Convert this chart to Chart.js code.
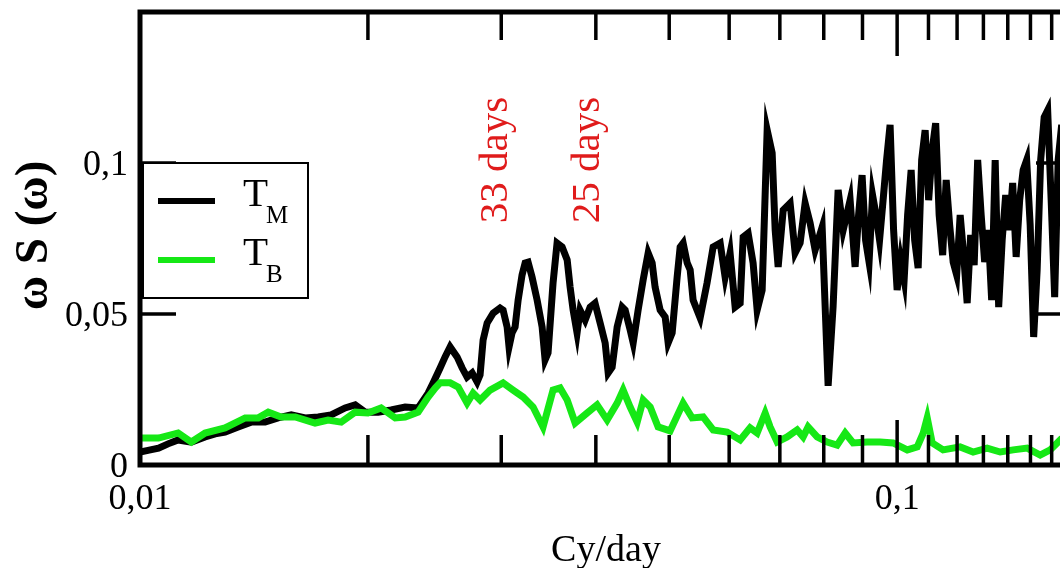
<!DOCTYPE html>
<html>
<head>
<meta charset="utf-8">
<title>Spectrum T_M / T_B</title>
<script src="https://cdn.jsdelivr.net/npm/chart.js@4.4.1/dist/chart.umd.min.js"></script>
<style>
  html, body { margin: 0; padding: 0; background: #fff; overflow: hidden; }
  canvas { display: block; }
</style>
</head>
<body>
<canvas id="spec" width="1080" height="568"></canvas>
<script>
// frequency (cy/day) and omega*S(omega) for the two records
var fM = [0.0100, 0.01032, 0.01058, 0.01089, 0.01123, 0.01169, 0.01219, 0.01257, 0.01295, 0.01348,
  0.01402, 0.01463, 0.01522, 0.01584, 0.01653, 0.01719, 0.01788, 0.01866, 0.01924, 0.01983,
  0.02063, 0.02146, 0.0224, 0.0233, 0.02402, 0.02439, 0.02491, 0.02529, 0.02568, 0.02623,
  0.02664, 0.02704, 0.02746, 0.02788, 0.02813, 0.02839, 0.02874, 0.02927, 0.02989, 0.03017,
  0.03054, 0.03072, 0.0310, 0.03129, 0.03158, 0.03196, 0.03226, 0.03255, 0.03295, 0.03346,
  0.03397, 0.03428, 0.03459, 0.03512, 0.03555, 0.0361, 0.03666, 0.03699, 0.03733, 0.03778,
  0.03813, 0.03872, 0.03931, 0.0399, 0.04053, 0.04115, 0.04153, 0.04203, 0.04268, 0.04333,
  0.04373, 0.0444, 0.04481, 0.04549, 0.04619, 0.0469, 0.04747, 0.0479, 0.04864, 0.04939,
  0.04984, 0.05045, 0.05122, 0.05169, 0.05216, 0.05281, 0.05329, 0.05377, 0.05493, 0.0561,
  0.05715, 0.05838, 0.05927, 0.06017, 0.0611, 0.06204, 0.06261, 0.06356, 0.06453, 0.06533,
  0.06633, 0.06735, 0.06838, 0.06901, 0.06964, 0.07071, 0.07222, 0.07333, 0.07445, 0.07559,
  0.07675, 0.07793, 0.07961, 0.08107, 0.0823, 0.08357, 0.08486, 0.08668,
  0.08800, 0.08894, 0.08989, 0.09085, 0.09182, 0.09280, 0.09380, 0.09480, 0.09582, 0.09684,
  0.09788, 0.09893, 0.1000, 0.10107, 0.10215, 0.10324, 0.10435, 0.10547, 0.10660, 0.10774,
  0.10889, 0.11006, 0.11124, 0.11243, 0.11363, 0.11485, 0.11608, 0.11732, 0.11858, 0.11985,
  0.12113, 0.12243, 0.12374, 0.12506, 0.12640, 0.12775, 0.12912, 0.13050, 0.13190, 0.13331,
  0.13474, 0.13618, 0.13764, 0.13911, 0.14060, 0.14210, 0.14362, 0.14516, 0.14671, 0.14828,
  0.14987, 0.15147, 0.15309, 0.15473, 0.15639, 0.15806, 0.15975, 0.16146, 0.16319, 0.16494,
  0.16670, 0.16848, 0.1702];
var sM = [0.0043, 0.0050, 0.0056, 0.0070, 0.0083, 0.0076, 0.0093, 0.0103, 0.0109, 0.0126,
  0.0142, 0.0142, 0.0156, 0.0166, 0.0156, 0.0159, 0.0166, 0.0189, 0.0199, 0.0175,
  0.0175, 0.0182, 0.0192, 0.0189, 0.0238, 0.0272, 0.0321, 0.0358, 0.0391, 0.0358,
  0.0321, 0.0291, 0.0305, 0.0275, 0.0298, 0.0414, 0.0470, 0.0503, 0.0520, 0.0513,
  0.0457, 0.0391, 0.0437, 0.0457, 0.0546, 0.0629, 0.0669, 0.0672, 0.0622, 0.0546,
  0.0457, 0.0348, 0.0371, 0.0603, 0.0735, 0.0722, 0.0679, 0.0589, 0.0513, 0.0437,
  0.0513, 0.0480, 0.0523, 0.0536, 0.0470, 0.0404, 0.0305, 0.0324, 0.0457, 0.0523,
  0.0513, 0.0447, 0.0404, 0.0513, 0.0613, 0.0702, 0.0669, 0.0589, 0.0513, 0.0490,
  0.0404, 0.0437, 0.0622, 0.0722, 0.0735, 0.0669, 0.0646, 0.0546, 0.0487, 0.0603,
  0.0722, 0.0735, 0.0622, 0.0702, 0.0523, 0.0536, 0.0755, 0.0768, 0.0669, 0.0513,
  0.0579, 0.1109, 0.1033, 0.0778, 0.0656, 0.0844, 0.0867, 0.0702, 0.0735, 0.0867,
  0.0801, 0.0712, 0.0788, 0.0262, 0.0523, 0.0911, 0.0778, 0.0877,
  0.0656, 0.0828, 0.0960, 0.0745, 0.0672, 0.0894, 0.0828, 0.0745, 0.0877, 0.1010,
  0.1126, 0.0778, 0.0579, 0.0679, 0.0613, 0.0828, 0.0977, 0.0745, 0.0652, 0.1010,
  0.1109, 0.0877, 0.1043, 0.1132, 0.0828, 0.0695, 0.0944, 0.0795, 0.0672, 0.0629,
  0.0828, 0.0695, 0.0536, 0.0762, 0.0662, 0.1010, 0.0828, 0.0672, 0.0778, 0.0546,
  0.1010, 0.0523, 0.0745, 0.0894, 0.0778, 0.0934, 0.0689, 0.0877, 0.0977, 0.1010,
  0.0795, 0.0424, 0.0646, 0.1010, 0.1152, 0.1175, 0.0877, 0.0556, 0.1010, 0.1126,
  0.0877, 0.0679, 0.0778];

var fB = [0.0100, 0.01058, 0.01123, 0.01169, 0.01219, 0.01295, 0.01377, 0.01433, 0.01477, 0.01536,
  0.01603, 0.01703, 0.01772, 0.01844, 0.01924, 0.0200, 0.02082, 0.02173, 0.0224, 0.0233,
  0.02402, 0.02454, 0.02491, 0.02568, 0.02632, 0.02704, 0.02754, 0.02813, 0.0290, 0.03017,
  0.0311, 0.03206, 0.03305, 0.03407, 0.03512, 0.03588, 0.03666, 0.03756, 0.03895, 0.04015,
  0.0414, 0.04268, 0.04346, 0.0444, 0.04536, 0.04619, 0.04719, 0.04834, 0.05014, 0.05216,
  0.05361, 0.05543, 0.05715, 0.05962, 0.06204, 0.06394, 0.06533, 0.06694, 0.06796, 0.06943,
  0.07157, 0.07378, 0.07514, 0.07628, 0.07841, 0.08083, 0.08332, 0.08538, 0.08747, 0.09128,
  0.09496, 0.09879, 0.10313, 0.1063, 0.10827, 0.10958, 0.11126, 0.1150, 0.12112, 0.1260,
  0.13149, 0.13681, 0.14233, 0.14851, 0.15449, 0.15928, 0.16421, 0.1702];
var sB = [0.0089, 0.0089, 0.0106, 0.0076, 0.0106, 0.0123, 0.0156, 0.0156, 0.0175, 0.0159,
  0.0159, 0.0139, 0.0149, 0.0142, 0.0175, 0.0172, 0.0189, 0.0156, 0.0159, 0.0175,
  0.0225, 0.0255, 0.0272, 0.0272, 0.0258, 0.0205, 0.0238, 0.0215, 0.0248, 0.0272,
  0.0248, 0.0225, 0.0192, 0.0126, 0.0248, 0.0255, 0.0215, 0.0139, 0.0172, 0.0199,
  0.0149, 0.0205, 0.0248, 0.0192, 0.0142, 0.0215, 0.0192, 0.0126, 0.0113, 0.0205,
  0.0156, 0.0159, 0.0116, 0.0109, 0.0083, 0.0123, 0.0106, 0.0172, 0.0126, 0.0076,
  0.0093, 0.0116, 0.0093, 0.0126, 0.0093, 0.0076, 0.0066, 0.0106, 0.0073, 0.0076,
  0.0076, 0.0073, 0.0050, 0.0060, 0.0106, 0.0156, 0.0073, 0.0050, 0.0060, 0.0043,
  0.0056, 0.0043, 0.0050, 0.0056, 0.0033, 0.0050, 0.0083, 0.0066];

// axis ticks and labels
var xMajorTicks = [0.01, 0.1];
var xMinorTicks = [0.02, 0.03, 0.04, 0.05, 0.06, 0.07, 0.08, 0.09,
  0.11, 0.12, 0.13, 0.14, 0.15, 0.16];
var xTickLabels = ['0,01', '0,1'];
var yTicks = [0, 0.05, 0.1];
var yTickLabels = ['0', '0,05', '0,1'];

// marked periods (days)
var periods = [33, 25];
var periodLabels = ['33 days', '25 days'];

var serif = '"Liberation Serif", "Times New Roman", serif';
var greenCol = '#16e816';

function pairs(f, s) {
  return f.map(function (v, i) { return { x: v, y: s[i] }; });
}

var decor = {
  id: 'decor',
  afterDatasetsDraw: function (chart) {
    var ctx = chart.ctx, a = chart.chartArea;
    var xs = chart.scales.x, ys = chart.scales.y;
    ctx.save();
    ctx.strokeStyle = '#000';
    ctx.lineCap = 'butt';

    function seg(x1, y1, x2, y2) {
      ctx.beginPath(); ctx.moveTo(x1, y1); ctx.lineTo(x2, y2); ctx.stroke();
    }

    // inward ticks, top and bottom
    ctx.lineWidth = 3.5;
    xMinorTicks.forEach(function (v) {
      var px = xs.getPixelForValue(v);
      seg(px, a.bottom, px, a.bottom - 30);
      seg(px, a.top, px, a.top + 28);
    });
    xMajorTicks.forEach(function (v) {
      var px = xs.getPixelForValue(v);
      seg(px, a.bottom, px, a.bottom - 45);
      seg(px, a.top, px, a.top + 44);
    });
    // inward ticks, left and right
    yTicks.forEach(function (v) {
      var py = ys.getPixelForValue(v);
      seg(a.left, py, a.left + 36, py);
      seg(a.right, py, a.right - 36, py);
    });

    // frame
    ctx.lineWidth = 5;
    ctx.strokeRect(a.left, a.top, a.right - a.left, a.bottom - a.top);

    // tick labels
    ctx.fillStyle = '#000';
    ctx.font = '36px ' + serif;
    ctx.textBaseline = 'alphabetic';
    ctx.textAlign = 'center';
    xMajorTicks.forEach(function (v, i) {
      ctx.fillText(xTickLabels[i], xs.getPixelForValue(v), a.bottom + 44);
    });
    ctx.textAlign = 'right';
    yTicks.forEach(function (v, i) {
      ctx.fillText(yTickLabels[i], a.left - 12, ys.getPixelForValue(v) + 12);
    });

    // axis titles
    ctx.textAlign = 'center';
    ctx.font = '38px ' + serif;
    ctx.fillText('Cy/day', (a.left + a.right) / 2, 561);
    ctx.save();
    ctx.translate(35, (a.top + a.bottom) / 2 - 3);
    ctx.rotate(-Math.PI / 2);
    ctx.font = 'bold 47px ' + serif;
    ctx.textBaseline = 'middle';
    ctx.fillText('\u03c9 S (\u03c9)', 0, 0);
    ctx.restore();

    // period markers
    ctx.fillStyle = '#e01b1b';
    ctx.font = '41px ' + serif;
    periods.forEach(function (p, i) {
      ctx.save();
      ctx.translate(xs.getPixelForValue(1 / p) - 8, 160);
      ctx.rotate(-Math.PI / 2);
      ctx.textAlign = 'center';
      ctx.textBaseline = 'middle';
      ctx.fillText(periodLabels[i], 0, 0);
      ctx.restore();
    });

    // legend box
    var bx = a.left + 3, by = ys.getPixelForValue(0.1), bw = 165, bh = 135;
    ctx.fillStyle = '#fff';
    ctx.fillRect(bx, by, bw, bh);
    ctx.lineWidth = 2;
    ctx.strokeRect(bx, by, bw, bh);
    var rows = [
      { col: '#000', main: 'T', sub: 'M', y: by + 38 },
      { col: greenCol, main: 'T', sub: 'B', y: by + 97 }
    ];
    rows.forEach(function (r) {
      ctx.strokeStyle = r.col;
      ctx.lineWidth = 6;
      seg(bx + 15, r.y, bx + 72, r.y);
      ctx.fillStyle = '#000';
      ctx.textAlign = 'left';
      ctx.textBaseline = 'alphabetic';
      ctx.font = '41px ' + serif;
      ctx.fillText(r.main, bx + 100, r.y + 5);
      var w = ctx.measureText(r.main).width;
      ctx.font = '25px ' + serif;
      ctx.fillText(r.sub, bx + 100 + w - 2, r.y + 22);
    });

    ctx.restore();
  }
};

new Chart(document.getElementById('spec'), {
  type: 'line',
  data: {
    datasets: [
      { label: 'T_M', data: pairs(fM, sM), borderColor: '#000', borderWidth: 7,
        pointRadius: 0, tension: 0, order: 2 },
      { label: 'T_B', data: pairs(fB, sB), borderColor: greenCol, borderWidth: 7,
        pointRadius: 0, tension: 0, order: 1 }
    ]
  },
  options: {
    responsive: false,
    animation: false,
    devicePixelRatio: 1,
    layout: { padding: { left: 140, top: 12, right: 8, bottom: 103 } },
    plugins: { legend: { display: false }, tooltip: { enabled: false } },
    scales: {
      x: { type: 'logarithmic', min: 0.01, max: 0.1702, display: false },
      y: { type: 'linear', min: 0, max: 0.15, display: false }
    }
  },
  plugins: [decor]
});
</script>
</body>
</html>
